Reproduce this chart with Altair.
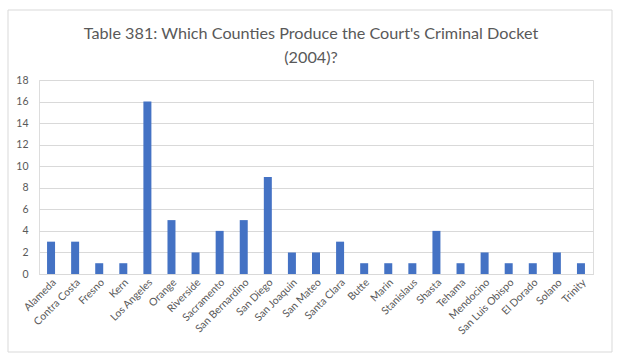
import altair as alt
import pandas as pd

counties = ["Alameda", "Contra Costa", "Fresno", "Kern", "Los Angeles", "Orange",
            "Riverside", "Sacramento", "San Bernardino", "San Diego", "San Joaquin",
            "San Mateo", "Santa Clara", "Butte", "Marin", "Stanislaus", "Shasta",
            "Tehama", "Mendocino", "San Luis Obispo", "El Dorado", "Solano", "Trinity"]
cases = [3, 3, 1, 1, 16, 5, 2, 4, 5, 9, 2, 2, 3, 1, 1, 1, 4, 1, 2, 1, 1, 2, 1]

df = pd.DataFrame({"County": counties, "Cases": cases})

FONT = "Lato"
GRAY = "#595959"

bars = alt.Chart(df).mark_bar(color="#4472C4", width=8).encode(
    x=alt.X("County:N", sort=counties, title=None,
            scale=alt.Scale(paddingInner=0.0, paddingOuter=0.0),
            axis=alt.Axis(labelAngle=-45, labelAlign="right", labelBaseline="top",
                          ticks=False, domain=True, domainColor="#d9d9d9",
                          labelFontSize=10.5, labelColor=GRAY, labelFont=FONT,
                          labelPadding=3)),
    y=alt.Y("Cases:Q", title=None,
            scale=alt.Scale(domain=[0, 18]),
            axis=alt.Axis(values=list(range(0, 19, 2)), ticks=False, domain=False,
                          grid=True, gridColor="#d9d9d9", labelFontSize=10.5,
                          labelColor=GRAY, labelFont=FONT, labelPadding=11)),
)

frame = alt.Chart(alt.Data(values=[{}])).mark_rect(
    fill=None, stroke="#d9d9d9", strokeWidth=1
).encode(x=alt.value(-31), x2=alt.value(573), y=alt.value(-70), y2=alt.value(272))

chart = alt.layer(frame, bars).properties(
    width=554, height=194,
    title=alt.TitleParams(
        text=["Table 381: Which Counties Produce the Court's Criminal Docket", "(2004)?"],
        font=FONT, fontSize=16.2, fontWeight="normal", color=GRAY,
        anchor="middle", frame="group", offset=-57, lineHeight=24, dx=-5),
    padding={"left": 39, "top": 80, "right": 26, "bottom": 83},
    autosize=alt.AutoSizeParams(type="none"),
).configure_view(stroke=None).configure(background="white")

chart.save("out.html", embed_options={"renderer": "svg", "actions": False})
